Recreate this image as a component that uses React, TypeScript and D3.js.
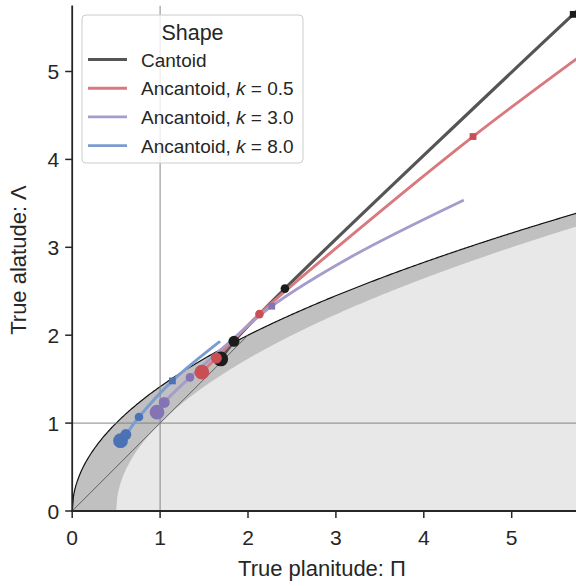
import React from "react";
import * as d3 from "d3";

// Axis ranges and ticks
const xDomain = [0, 5.75];
const yDomain = [0, 5.75];
const xTicks = [0, 1, 2, 3, 4, 5];
const yTicks = [0, 1, 2, 3, 4, 5];

// Cantoid trajectory
const cantoidPi = [1.69, 1.84, 2.42, 5.7, 5.8];
const cantoidLambda = [1.73, 1.93, 2.53, 5.65, 5.74];
// Ancantoid k = 0.5
const k05Pi = [1.475, 1.64, 2.13, 3.17, 4.56, 5.8];
const k05Lambda = [1.58, 1.74, 2.24, 3.13, 4.26, 5.19];
// Ancantoid k = 3.0
const k30Pi = [0.965, 1.047, 1.34, 1.8, 2.27, 3.17, 4.44];
const k30Lambda = [1.125, 1.235, 1.52, 1.93, 2.33, 2.89, 3.53];
// Ancantoid k = 8.0
const k80Pi = [0.55, 0.61, 0.76, 1.14, 1.67];
const k80Lambda = [0.8, 0.87, 1.07, 1.48, 1.92];

// Marked stages along each trajectory (index into the arrays above)
const cantoidMarks = [0, 1, 2, 3];
const k05Marks = [0, 1, 2, 4];
const k30Marks = [0, 1, 2, 4];
const k80Marks = [0, 1, 2, 3];
const markKinds = ["large", "medium", "small", "square"];

const legendLabels = ["Cantoid", "Ancantoid, k = 0.5", "Ancantoid, k = 3.0", "Ancantoid, k = 8.0"];

const FONT = "'Liberation Sans', Arial, Helvetica, sans-serif";

const series = [
  { pi: cantoidPi, lam: cantoidLambda, marks: cantoidMarks, line: "#555555", mark: "#1c1c1c" },
  { pi: k05Pi, lam: k05Lambda, marks: k05Marks, line: "#d9797e", mark: "#c94f55" },
  { pi: k30Pi, lam: k30Lambda, marks: k30Marks, line: "#a69ccc", mark: "#8474b5" },
  { pi: k80Pi, lam: k80Lambda, marks: k80Marks, line: "#7b9bd1", mark: "#4a72b5" },
];

export default function App() {
  const left = 72.2;
  const bottom = 511;
  const unit = 87.9;
  const x = d3.scaleLinear().domain(xDomain).range([left, left + unit * xDomain[1]]);
  const y = d3.scaleLinear().domain(yDomain).range([bottom, bottom - unit * yDomain[1]]);
  const top = y(yDomain[1]);
  const right = x(xDomain[1]);

  // Region boundaries: upper Λ = sqrt(2Π), lower Λ = sqrt(2Π − 1)
  const n = 400;
  const upperPts: [number, number][] = d3.range(n + 1).map((i) => {
    const p = (xDomain[1] * i) / n;
    return [p, Math.sqrt(2 * p)];
  });
  const lowerPts: [number, number][] = d3.range(n + 1).map((i) => {
    const p = 0.5 + ((xDomain[1] - 0.5) * i) / n;
    return [p, Math.sqrt(Math.max(0, 2 * p - 1))];
  });
  const area = d3
    .area<[number, number]>()
    .x((d) => x(d[0]))
    .y0(() => y(0))
    .y1((d) => y(d[1]));
  const line = d3
    .line<[number, number]>()
    .x((d) => x(d[0]))
    .y((d) => y(d[1]));
  const curve = d3
    .line<[number, number]>()
    .x((d) => x(d[0]))
    .y((d) => y(d[1]))
    .curve(d3.curveCatmullRom.alpha(0.5));

  const markSize: Record<string, number> = { large: 7.4, medium: 5.5, small: 4.3, square: 6.8 };

  return (
    <svg
      width={576}
      height={586}
      style={{ position: "absolute", left: 0, top: 0, background: "#fff" }}
      fontFamily={FONT}
    >
      <defs>
        <clipPath id="plotClip">
          <rect x={left} y={top} width={right - left} height={bottom - top} />
        </clipPath>
      </defs>
      <g clipPath="url(#plotClip)">
        <path d={area(upperPts) ?? ""} fill="#c0c0c0" />
        <path d={area(lowerPts) ?? ""} fill="#e8e8e8" />
        <path d={line(upperPts) ?? ""} fill="none" stroke="#111" strokeWidth={1.2} />
        <path
          d={line([
            [0, 0],
            [2, 2],
          ]) ?? ""}
          fill="none"
          stroke="#555"
          strokeWidth={0.9}
        />
        <line x1={x(1)} x2={x(1)} y1={top} y2={bottom} stroke="#7a7a7a" strokeWidth={0.9} />
        <line x1={left} x2={right} y1={y(1)} y2={y(1)} stroke="#7a7a7a" strokeWidth={0.9} />
        {series.map((s, i) => (
          <path
            key={"l" + i}
            d={curve(s.pi.map((p, j) => [p, s.lam[j]] as [number, number])) ?? ""}
            fill="none"
            stroke={s.line}
            strokeWidth={i === 0 ? 3.2 : 2.9}
            strokeLinecap="square"
          />
        ))}
        {series.map((s, i) =>
          s.marks.map((m, j) => {
            const kind = markKinds[j];
            const cx = x(s.pi[m]);
            const cy = y(s.lam[m]);
            const r = markSize[kind];
            return kind === "square" ? (
              <rect key={`m${i}-${j}`} x={cx - r / 2} y={cy - r / 2} width={r} height={r} fill={s.mark} />
            ) : (
              <circle key={`m${i}-${j}`} cx={cx} cy={cy} r={r} fill={s.mark} />
            );
          })
        )}
      </g>

      {/* Axes */}
      <line x1={left} x2={left} y1={top} y2={bottom + 0.9} stroke="#262626" strokeWidth={1.8} />
      <line x1={left - 0.9} x2={right} y1={bottom} y2={bottom} stroke="#262626" strokeWidth={1.8} />
      {xTicks.map((t) => (
        <g key={"xt" + t}>
          <line x1={x(t)} x2={x(t)} y1={bottom} y2={bottom + 7} stroke="#262626" strokeWidth={1.5} />
          <text x={x(t)} y={bottom + 34} textAnchor="middle" fontSize={21} fill="#262626">
            {t}
          </text>
        </g>
      ))}
      {yTicks.map((t) => (
        <g key={"yt" + t}>
          <line x1={left - 7} x2={left} y1={y(t)} y2={y(t)} stroke="#262626" strokeWidth={1.5} />
          <text x={left - 13} y={y(t) + 7.5} textAnchor="end" fontSize={21} fill="#262626">
            {t}
          </text>
        </g>
      ))}
      <text x={322} y={576} textAnchor="middle" fontSize={22} fill="#262626">
        True planitude: Π
      </text>
      <text
        transform={`translate(26, 260) rotate(-90)`}
        textAnchor="middle"
        fontSize={22}
        fill="#262626"
      >
        True alatude: Λ
      </text>

      {/* Legend */}
      <g>
        <rect x={82} y={15} width={221} height={148} rx={4} fill="#fff" fillOpacity={0.8} stroke="#cccccc" strokeWidth={1} />
        <text x={192.5} y={40} textAnchor="middle" fontSize={21.5} fill="#262626">
          Shape
        </text>
        {legendLabels.map((lab, i) => {
          const ly = 59.5 + i * 28.7;
          const parts = lab.split("k");
          return (
            <g key={"lg" + i}>
              <line x1={88} x2={127} y1={ly} y2={ly} stroke={series[i].line} strokeWidth={2.9} />
              <text x={141} y={ly + 7} fontSize={19} fill="#262626">
                {parts.length > 1 ? (
                  <>
                    {parts[0]}
                    <tspan fontStyle="italic">k</tspan>
                    {parts[1]}
                  </>
                ) : (
                  lab
                )}
              </text>
            </g>
          );
        })}
      </g>
    </svg>
  );
}
